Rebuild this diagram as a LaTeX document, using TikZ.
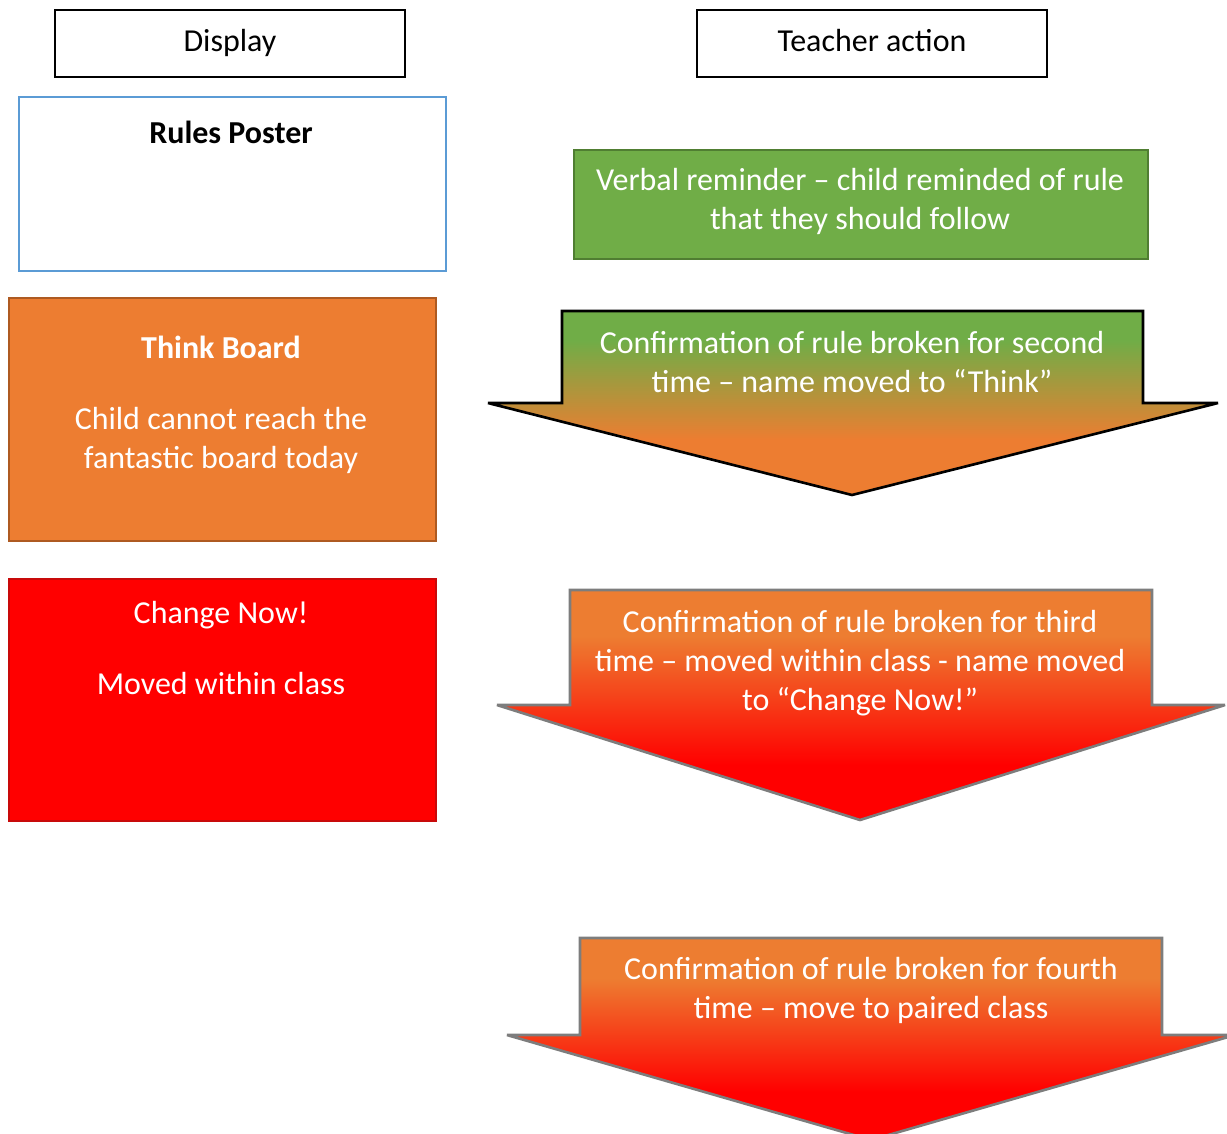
\documentclass[tikz,border=0pt]{standalone}
\usepackage{fontspec}
\setmainfont{Carlito}
\usetikzlibrary{positioning}
\definecolor{rlBlue}{RGB}{91,155,213}
\definecolor{rlGreen}{RGB}{112,173,71}
\definecolor{rlGreenLine}{RGB}{80,126,50}
\definecolor{rlOrange}{RGB}{237,125,49}
\definecolor{rlOrangeLine}{RGB}{174,90,33}
\definecolor{rlRed}{RGB}{255,0,0}
\definecolor{rlRedLine}{RGB}{200,10,10}
\definecolor{rlGrey}{RGB}{125,125,125}
% path box sits between 25bp (bottom) and 75bp (top)
\pgfdeclareverticalshading{greenToOrange}{100bp}{color(0bp)=(rlOrange);
  color(40bp)=(rlOrange); color(67bp)=(rlGreen); color(100bp)=(rlGreen)}
\pgfdeclareverticalshading{orangeToRed}{100bp}{color(0bp)=(rlRed);
  color(37bp)=(rlRed); color(65bp)=(rlOrange); color(100bp)=(rlOrange)}
\newcommand{\px}{0.02cm}
\newcommand{\Txt}{\fontsize{18.2}{22}\selectfont}
\tikzset{
  Head/.style   = {draw=black, line width=0.8pt, minimum width=350*\px,
                   minimum height=67*\px, inner sep=0pt},
  Panel/.style  = {line width=1.4pt, anchor=north west, inner sep=0pt,
                   minimum width=427*\px},
  Line/.style   = {font=\Txt, anchor=base, inner sep=0pt},
  WLine/.style  = {Line, text=white},
  Shaft/.style  = {line width=1.5pt, line join=miter, miter limit=2, shade},
}

\begin{document}
\begin{tikzpicture}[x=\px, y=-\px]
\useasboundingbox (0,0) rectangle (1227,1133);

% ======================= column heads ====================================
\node[Head] (disp)  at (230,43.5) {};
\node[Head] (teach) at (872,43.5) {};
\node[Line] (dispT)  at (230,51) {Display};
\node[Line] (teachT) at (872,51) {Teacher action};

% ======================= display panels ==================================
\node[Panel, draw=rlBlue, minimum height=174*\px] (rules) at (18,96) {};
\node[Line, font=\Txt\bfseries] (rulesT) at (231,143) {Rules Poster};

\node[Panel, draw=rlOrangeLine, fill=rlOrange, minimum height=243*\px]
  (think) at (8,297) {};
\node[WLine, font=\Txt\bfseries] (thinkT) at (221,358) {Think Board};
\foreach \t [count=\i] in {Child cannot reach the, fantastic board today}
  \node[WLine] (think-\i) at (221,390+39*\i) {\t};

\node[Panel, draw=rlRedLine, fill=rlRed, minimum height=242*\px]
  (change) at (8,578) {};
\node[WLine] (changeT) at (221,623) {Change Now!};
\node[WLine] (change-1) at (221,694) {Moved within class};

% ======================= teacher actions =================================
\node[Panel, draw=rlGreenLine, fill=rlGreen, minimum width=574*\px,
      minimum height=109*\px] (verbal) at (573,149) {};
\foreach \t [count=\i] in {Verbal reminder -- child reminded of rule,
                           that they should follow}
  \node[WLine] (verbal-\i) at (860,151+39*\i) {\t};

% second time
\draw[Shaft, draw=black, shading=greenToOrange]
  (562,311) -- (1143,311) -- (1143,403) -- (1218,403) -- (852,495)
  -- (488,403) -- (562,403) -- cycle;
\foreach \t [count=\i] in {Confirmation of rule broken for second,
                           time -- name moved to “Think”}
  \node[WLine] (second-\i) at (852,314+39*\i) {\t};

% third time
\draw[Shaft, draw=rlGrey, shading=orangeToRed]
  (570,590) -- (1152,590) -- (1152,705) -- (1225,705) -- (860,820)
  -- (497,705) -- (570,705) -- cycle;
\foreach \t [count=\i] in {Confirmation of rule broken for third,
                           time -- moved within class - name moved,
                           to “Change Now!”}
  \node[WLine] (third-\i) at (860,593+39*\i) {\t};

% fourth time
\draw[Shaft, draw=rlGrey, shading=orangeToRed]
  (580,938) -- (1162,938) -- (1162,1035) -- (1235,1035) -- (871,1140)
  -- (507,1035) -- (580,1035) -- cycle;
\foreach \t [count=\i] in {Confirmation of rule broken for fourth,
                           time -- move to paired class}
  \node[WLine] (fourth-\i) at (871,940+39*\i) {\t};

\end{tikzpicture}
\end{document}
